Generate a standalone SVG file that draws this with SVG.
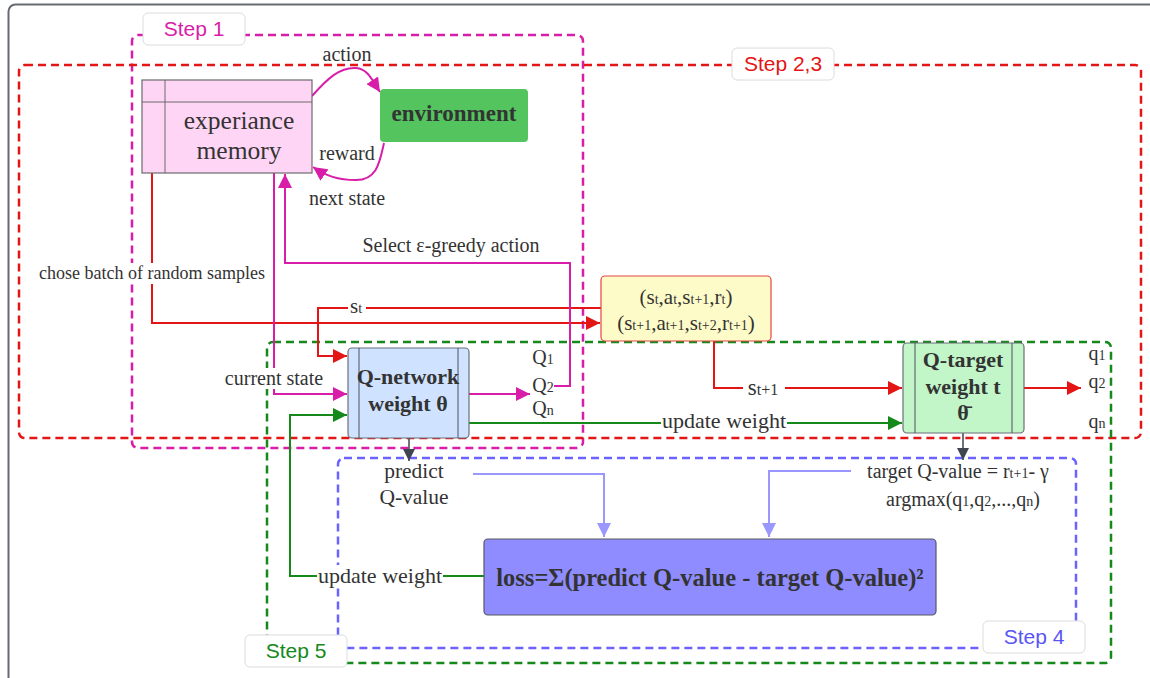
<svg xmlns="http://www.w3.org/2000/svg" width="1150" height="678" viewBox="0 0 1150 678">
  <style>
    .lbl { font-family: "Liberation Serif", "DejaVu Serif", serif; fill: #333; font-size: 20px; text-anchor: middle; }
    .big { font-family: "Liberation Serif", "DejaVu Serif", serif; fill: #333; font-size: 25.5px; text-anchor: middle; }
    .bold { font-family: "Liberation Serif", "DejaVu Serif", serif; fill: #333; font-size: 22px; font-weight: bold; text-anchor: middle; }
    .step { font-family: "Liberation Sans", Arial, sans-serif; font-size: 21px; text-anchor: middle; }
    .tag { fill: #fff; stroke: #dcdcdc; stroke-width: 1; }
    .sub { font-size: 14px; }
    .bg { fill: #fff; }
  </style>
  <defs>
    <marker id="ah-red" viewBox="0 0 10 10" refX="10" refY="5" markerWidth="14" markerHeight="14" markerUnits="userSpaceOnUse" orient="auto"><path d="M0,0 L10,5 L0,10 z" fill="#e41515"/></marker>
    <marker id="ah-mag" viewBox="0 0 10 10" refX="10" refY="5" markerWidth="14" markerHeight="14" markerUnits="userSpaceOnUse" orient="auto"><path d="M0,0 L10,5 L0,10 z" fill="#d81ea8"/></marker>
    <marker id="ah-grn" viewBox="0 0 10 10" refX="10" refY="5" markerWidth="14" markerHeight="14" markerUnits="userSpaceOnUse" orient="auto"><path d="M0,0 L10,5 L0,10 z" fill="#15891a"/></marker>
    <marker id="ah-gry" viewBox="0 0 10 10" refX="10" refY="5" markerWidth="12" markerHeight="12" markerUnits="userSpaceOnUse" orient="auto"><path d="M0,0 L10,5 L0,10 z" fill="#3f4650"/></marker>
    <marker id="ah-lav" viewBox="0 0 10 10" refX="10" refY="5" markerWidth="14" markerHeight="14" markerUnits="userSpaceOnUse" orient="auto"><path d="M0,0 L10,5 L0,10 z" fill="#9a97ff"/></marker>
  </defs>

  <rect width="1150" height="678" fill="#fff"/>
  <!-- outer frame -->
  <rect x="8.5" y="4.5" width="1200" height="720" rx="7" fill="none" stroke="#666b72" stroke-width="2"/>

  <!-- step regions -->
  <g id="regions" fill="none" stroke-width="2.5" stroke-dasharray="8 5">
    <rect x="132" y="35" width="451" height="413" rx="6" stroke="#d81ea8"/>
    <rect x="19" y="65" width="1122" height="373" rx="6" stroke="#e41515"/>
    <rect x="267" y="342" width="844" height="321" rx="6" stroke="#15891a"/>
    <rect x="338" y="458" width="738" height="190" rx="6" stroke="#6b63ff"/>
  </g>

  <!-- connectors -->
  <g id="connectors" fill="none" stroke-width="2">
    <!-- action / reward loop -->
    <path d="M312,96 C328,78 340,67 356,68 C368,69 372,80 380,92" stroke="#d81ea8" marker-end="url(#ah-mag)"/>
    <path d="M384,143 C380,160 378,180 356,180 C338,180 326,176 313,167" stroke="#d81ea8" marker-end="url(#ah-mag)"/>
    <!-- batch sampling into replay tuples -->
    <path d="M152,173 V323 H600" stroke="#e41515" marker-end="url(#ah-red)"/>
    <!-- s_t into Q-network -->
    <path d="M601,308 H318 V356 H347" stroke="#e41515" marker-end="url(#ah-red)"/>
    <!-- current state -->
    <path d="M274,173 V394 H347" stroke="#d81ea8" marker-end="url(#ah-mag)"/>
    <!-- epsilon-greedy action back to memory -->
    <path d="M554,386 H570 V263 H285 V174" stroke="#d81ea8" marker-end="url(#ah-mag)"/>
    <!-- Q-network outputs -->
    <path d="M469,394 H530" stroke="#d81ea8" marker-end="url(#ah-mag)"/>
    <!-- update weight to target -->
    <path d="M469,423 H902" stroke="#15891a" marker-end="url(#ah-grn)"/>
    <!-- s_t+1 into Q-target -->
    <path d="M714,341 V388 H902" stroke="#e41515" marker-end="url(#ah-red)"/>
    <!-- Q-target outputs -->
    <path d="M1024,388 H1081" stroke="#e41515" marker-end="url(#ah-red)"/>
    <!-- downward to values -->
    <path d="M409,438 V461" stroke="#3f4650" stroke-width="1.5" marker-end="url(#ah-gry)"/>
    <path d="M963,433 V460" stroke="#3f4650" stroke-width="1.5" marker-end="url(#ah-gry)"/>
    <!-- values into loss -->
    <path d="M473,474 H604 V537" stroke="#9a97ff" marker-end="url(#ah-lav)"/>
    <path d="M851,471 H769 V537" stroke="#9a97ff" marker-end="url(#ah-lav)"/>
    <!-- loss gradient back to Q-network -->
    <path d="M484,576 H290 V415 H347" stroke="#15891a" marker-end="url(#ah-grn)"/>
  </g>

  <!-- connector labels -->
  <g id="edge-labels">
    <rect class="bg" x="37" y="263" width="231" height="21"/>
    <rect class="bg" x="348" y="300" width="18" height="16"/>
    <rect class="bg" x="224" y="368" width="100" height="21"/>
    <rect class="bg" x="661" y="411" width="126" height="21"/>
    <rect class="bg" x="743" y="380" width="42" height="17"/>
    <rect class="bg" x="317" y="565" width="126" height="21"/>

    <text class="lbl" x="347" y="61">action</text>
    <text class="lbl" x="347" y="160">reward</text>
    <text class="lbl" x="347" y="205">next state</text>
    <text class="lbl" x="451" y="252">Select ε-greedy action</text>
    <text class="lbl" x="152" y="279" style="font-size:18px">chose batch of random samples</text>
    <text class="lbl" x="356" y="313" style="font-size:21px">s<tspan class="sub">t</tspan></text>
    <text class="lbl" x="274" y="385">current state</text>
    <text class="lbl" x="543" y="364">Q<tspan class="sub">1</tspan></text>
    <text class="lbl" x="543" y="392">Q<tspan class="sub">2</tspan></text>
    <text class="lbl" x="543" y="415">Q<tspan class="sub">n</tspan></text>
    <text class="lbl" x="724" y="428" style="font-size:22px">update weight</text>
    <text class="lbl" x="763" y="395" style="font-size:23px">s<tspan style="font-size:16px">t+1</tspan></text>
    <text class="lbl" x="1097" y="360">q<tspan class="sub">1</tspan></text>
    <text class="lbl" x="1097" y="388">q<tspan class="sub">2</tspan></text>
    <text class="lbl" x="1097" y="428">q<tspan class="sub">n</tspan></text>
    <text class="lbl" x="414" y="478" style="font-size:21.5px">predict</text>
    <text class="lbl" x="414" y="504" style="font-size:21.5px">Q-value</text>
    <text class="lbl" x="958" y="478">target Q-value = r<tspan class="sub">t+1</tspan>- γ</text>
    <text class="lbl" x="963" y="506">argmax(q<tspan class="sub">1</tspan>,q<tspan class="sub">2</tspan>,...,q<tspan class="sub">n</tspan>)</text>
    <text class="lbl" x="380" y="583" style="font-size:22px">update weight</text>
  </g>

  <!-- nodes -->
  <g id="memory">
    <rect x="142" y="80" width="170" height="93" fill="#ffd5f5" stroke="#6b6b6b" stroke-width="1.2"/>
    <line x1="165" y1="80" x2="165" y2="173" stroke="#6b6b6b" stroke-width="1"/>
    <line x1="142" y1="102" x2="312" y2="102" stroke="#6b6b6b" stroke-width="1"/>
    <text class="big" x="239" y="129">experiance</text>
    <text class="big" x="239" y="159">memory</text>
  </g>

  <g id="environment">
    <rect x="380" y="89" width="148" height="53" rx="4" fill="#54c45e"/>
    <text class="bold" x="454" y="121" style="font-size:23px">environment</text>
  </g>

  <g id="replay-tuples">
    <rect x="601" y="276" width="170" height="65" rx="4" fill="#fdfbc8" stroke="#e64545" stroke-width="1.2"/>
    <text class="lbl" x="686" y="304" style="font-size:21px">(s<tspan class="sub">t</tspan>,a<tspan class="sub">t</tspan>,s<tspan class="sub">t+1</tspan>,r<tspan class="sub">t</tspan>)</text>
    <text class="lbl" x="686" y="330" style="font-size:21px">(s<tspan class="sub">t+1</tspan>,a<tspan class="sub">t+1</tspan>,s<tspan class="sub">t+2</tspan>,r<tspan class="sub">t+1</tspan>)</text>
  </g>

  <g id="q-network">
    <rect x="348" y="348" width="121" height="90" rx="4" fill="#cfe2ff" stroke="#6b6f78" stroke-width="1.2"/>
    <line x1="359" y1="348" x2="359" y2="438" stroke="#4d525a" stroke-width="1"/>
    <line x1="458" y1="348" x2="458" y2="438" stroke="#4d525a" stroke-width="1"/>
    <text class="bold" x="408" y="384">Q-network</text>
    <text class="bold" x="408" y="411">weight θ</text>
  </g>

  <g id="q-target">
    <rect x="903" y="343" width="121" height="90" rx="4" fill="#c2f5c8" stroke="#6b6f78" stroke-width="1.2"/>
    <line x1="915" y1="343" x2="915" y2="433" stroke="#4d525a" stroke-width="1"/>
    <line x1="1012" y1="343" x2="1012" y2="433" stroke="#4d525a" stroke-width="1"/>
    <text class="bold" x="963" y="367">Q-target</text>
    <text class="bold" x="963" y="394">weight t</text>
    <text class="bold" x="963" y="420">θ̄</text>
  </g>

  <g id="loss">
    <rect x="484" y="539" width="452" height="76" rx="4" fill="#8f8cff" stroke="#55585f" stroke-width="1.2"/>
    <text class="bold" x="710" y="586" style="font-size:24.5px">loss=Σ(predict Q-value - target Q-value)²</text>
  </g>

  <!-- step tags -->
  <g id="step-tags">
    <rect class="tag" x="143" y="13" width="102" height="32" rx="5"/>
    <text class="step" x="194" y="36" fill="#d81ea8">Step 1</text>
    <rect class="tag" x="732" y="48" width="102" height="32" rx="5"/>
    <text class="step" x="783" y="71" fill="#e41515">Step 2,3</text>
    <rect class="tag" x="983" y="621" width="102" height="32" rx="5"/>
    <text class="step" x="1034" y="644" fill="#5a55f5">Step 4</text>
    <rect class="tag" x="245" y="635" width="102" height="32" rx="5"/>
    <text class="step" x="296" y="658" fill="#15891a">Step 5</text>
  </g>
</svg>
